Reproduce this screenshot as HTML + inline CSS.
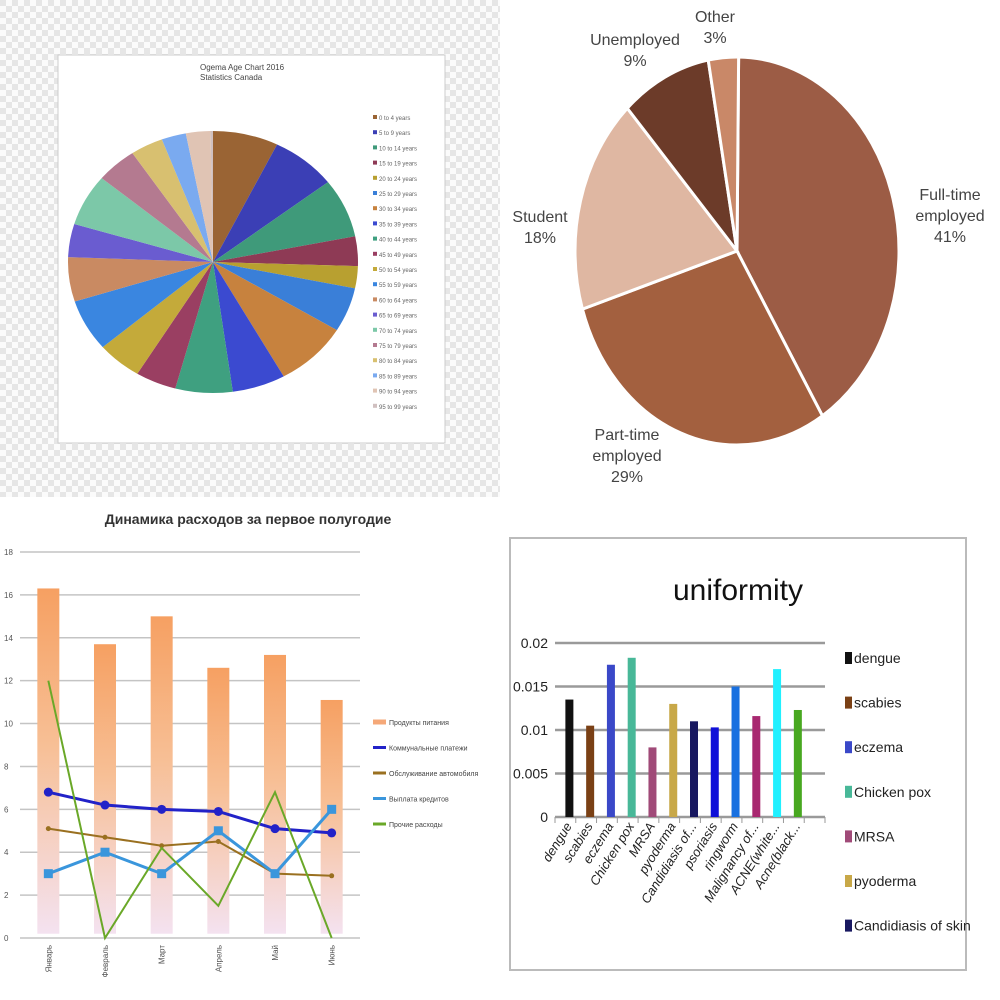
<!DOCTYPE html>
<html><head><meta charset="utf-8">
<style>
html,body{margin:0;padding:0;background:#fff;}
svg{display:block;font-family:"Liberation Sans",sans-serif;}
</style></head>
<body>
<svg id="s" width="1000" height="1000" viewBox="0 0 1000 1000" xmlns="http://www.w3.org/2000/svg">
<defs>
<pattern id="chk" width="12" height="12" patternUnits="userSpaceOnUse">
<rect width="12" height="12" fill="#fbfbfb"/><rect width="6" height="6" fill="#e6e6e6"/><rect x="6" y="6" width="6" height="6" fill="#e6e6e6"/>
</pattern>
<linearGradient id="barg" x1="0" y1="0" x2="0" y2="1">
<stop offset="0" stop-color="#f6a062"/><stop offset="0.45" stop-color="#f7bf95"/><stop offset="1" stop-color="#f4e2f0"/>
</linearGradient>
</defs>
<rect x="0" y="0" width="500" height="497" fill="url(#chk)"/>
<rect x="58" y="55" width="387" height="388" fill="#fff" stroke="#ccc"/>
<text x="200" y="70" font-size="8" fill="#444">Ogema Age Chart 2016</text>
<text x="200" y="80" font-size="8" fill="#444">Statistics Canada</text>
<g id="agePie"></g><g id="ageLegend"></g>
<g id="empPie"></g>
<g id="expChart"></g>
<rect x="510" y="538" width="456" height="432" fill="#fff" stroke="#bbb" stroke-width="2"/>
<text x="738" y="600" font-size="30" text-anchor="middle" fill="#111">uniformity</text>
<g id="uniChart"></g>
</svg>
<script>
const NS="http://www.w3.org/2000/svg";
function mk(p,t,a){const e=document.createElementNS(NS,t);for(const k in a)e.setAttribute(k,a[k]);p.appendChild(e);return e;}

// ---- Age pie ----
const ageLabels=["0 to 4 years","5 to 9 years","10 to 14 years","15 to 19 years","20 to 24 years","25 to 29 years","30 to 34 years","35 to 39 years","40 to 44 years","45 to 49 years","50 to 54 years","55 to 59 years","60 to 64 years","65 to 69 years","70 to 74 years","75 to 79 years","80 to 84 years","85 to 89 years","90 to 94 years","95 to 99 years"];
const ageValues=[8,8,8,4,3,6,9,6.5,7,5,5.5,7,6,4.5,7,5,4,3,3,0.3];
const ageColors=["#9a6434","#3b3fb5","#3f9a7a","#8e3a55","#b8a030","#3a7fd8","#c7823e","#3b4ad0","#3fa080","#9a3f62","#c4aa3a","#3a86e0","#c98a62","#6a5cd0","#7cc8a8","#b47a90","#d8c070","#7aaaf0","#e0c4b4","#d0c0c0"];
{
const g=document.getElementById('agePie');const cx=213,cy=262,rx=145,ry=131;
const tot=ageValues.reduce((a,b)=>a+b,0);let a0=-Math.PI/2;
ageValues.forEach((v,i)=>{const a1=a0+v/tot*2*Math.PI;
const x0=cx+rx*Math.cos(a0),y0=cy+ry*Math.sin(a0),x1=cx+rx*Math.cos(a1),y1=cy+ry*Math.sin(a1);
const p=mk(g,'path',{d:`M${cx},${cy}L${x0},${y0}A${rx},${ry} 0 ${a1-a0>Math.PI?1:0} 1 ${x1},${y1}Z`,fill:ageColors[i]});


a0=a1;});
const lg=document.getElementById('ageLegend');
ageLabels.forEach((l,i)=>{const y=118+i*15.2;
const r=mk(lg,'rect',{x:373,y:y-3,width:4,height:4,fill:ageColors[i]});


const t=mk(lg,'text',{x:379,y:y+2,'font-size':6,fill:'#666'});t.textContent=l;

});
}

// ---- Employment pie ----
const empLabels=[["Full-time","employed","41%"],["Part-time","employed","29%"],["Student","18%"],["Unemployed","9%"],["Other","3%"]];
const empValues=[41,29,18,9,3];
const empColors=["#9c5c45","#a3603f","#dfb7a2","#6c3b29","#c98868"];
{
const g=document.getElementById('empPie');const cx=737,cy=251,rx=162,ry=194;
const lpos=[[950,200],[627,440],[540,222],[635,45],[715,22]];
let a0=-Math.PI/2+0.01;const tot=empValues.reduce((a,b)=>a+b,0);
empValues.forEach((v,i)=>{const a1=a0+v/tot*2*Math.PI;
const x0=cx+rx*Math.cos(a0),y0=cy+ry*Math.sin(a0),x1=cx+rx*Math.cos(a1),y1=cy+ry*Math.sin(a1);
const p=mk(g,'path',{d:`M${cx},${cy}L${x0},${y0}A${rx},${ry} 0 ${a1-a0>Math.PI?1:0} 1 ${x1},${y1}Z`,fill:empColors[i],stroke:'#fff','stroke-width':3});


a0=a1;
const t=mk(g,'text',{x:lpos[i][0],y:lpos[i][1],'font-size':16,'text-anchor':'middle',fill:'#444'});


empLabels[i].forEach((s,j)=>{const ts=mk(t,'tspan',{x:lpos[i][0],dy:j?21:0});ts.textContent=s;});
});
}

// ---- Expenses chart ----
const months=["Январь","Февраль","Март","Апрель","Май","Июнь"];
const food=[16.3,13.7,15.0,12.6,13.2,11.1];
const utilities=[6.8,6.2,6.0,5.9,5.1,4.9];
const car=[5.1,4.7,4.3,4.5,3.0,2.9];
const loans=[3,4,3,5,3,6];
const other=[12,0,4.2,1.5,6.8,0];
const expTicks=[0,2,4,6,8,10,12,14,16,18];
const expSeries=["Продукты питания","Коммунальные платежи","Обслуживание автомобиля","Выплата кредитов","Прочие расходы"];
{
const g=document.getElementById('expChart');
const x0=20,x1=360,y0=938,yTop=552;
const Y=v=>y0-(v/18)*(y0-yTop);const step=(x1-x0)/6;const X=i=>x0+step*(i+0.5);
const tt=mk(g,'text',{x:248,y:524,'font-size':14,'font-weight':'bold','text-anchor':'middle',fill:'#333'});tt.textContent="Динамика расходов за первое полугодие";


expTicks.forEach(v=>{const l=mk(g,'line',{x1:x0,x2:x1,y1:Y(v),y2:Y(v),stroke:'#c4c4c4','stroke-width':1.5});


const t=mk(g,'text',{x:4,y:Y(v)+3,'font-size':8,fill:'#555'});t.textContent=v;

});
food.forEach((v,i)=>{const r=mk(g,'rect',{x:X(i)-11,y:Y(v),width:22,height:Y(0.2)-Y(v),fill:'url(#barg)'});

});
months.forEach((m,i)=>{const t=mk(g,'text',{x:X(i)+3,y:945,'font-size':8,'text-anchor':'end',fill:'#555',transform:`rotate(-90 ${X(i)+3} 945)`});t.textContent=m;

});
const lines=[[utilities,'#2222c8','circle',3],[car,'#9a7020','tri',2],[loans,'#3a96dc','sq',3],[other,'#6aa828',null,2]];
lines.forEach(([arr,c,mkT,w])=>{const pts=arr.map((v,i)=>X(i)+','+Y(v)).join(' ');
const pl=mk(g,'polyline',{points:pts,fill:'none',stroke:c,'stroke-width':w});


if(mkT)arr.forEach((v,i)=>{let m;
if(mkT==='circle')m=mk(g,'circle',{cx:X(i),cy:Y(v),r:4.5,fill:c});
else if(mkT==='sq')m=mk(g,'rect',{x:X(i)-4.5,y:Y(v)-4.5,width:9,height:9,fill:c});
else m=mk(g,'circle',{cx:X(i),cy:Y(v),r:2.5,fill:c});

});});
const lc=['#f5a878','#2222c8','#9a7020','#3a96dc','#6aa828'];
expSeries.forEach((s,i)=>{const y=722+i*25.5;
const l=mk(g,'line',{x1:373,x2:386,y1:y,y2:y,stroke:lc[i],'stroke-width':i==0?5:3});


const t=mk(g,'text',{x:389,y:y+3,'font-size':7,fill:'#444'});t.textContent=s;

});
}

// ---- Uniformity chart ----
const diseases=["dengue","scabies","eczema","Chicken pox","MRSA","pyoderma","Candidiasis of...","psoriasis","ringworm","Malignancy of...","ACNE(white...","Acne(black..."];
const uniValues=[0.0135,0.0105,0.0175,0.0183,0.008,0.013,0.011,0.0103,0.015,0.0116,0.017,0.0123];
const uniTicks=[0,0.005,0.01,0.015,0.02];
const uniColors=["#111","#7a4015","#3a48c8","#48b898","#a04a78","#c8a848","#181860","#1010d8","#1870e0","#a82870","#20f0ff","#48a820"];
const legendNames=["dengue","scabies","eczema","Chicken pox","MRSA","pyoderma","Candidiasis of skin"];
{
const g=document.getElementById('uniChart');
const x0=555,x1=825,y0=817,yTop=643;const step=(x1-x0)/13;
const Y=v=>y0-(v/0.02)*(y0-yTop);const X=i=>x0+step*(i+0.5)+4;
uniTicks.forEach(v=>{const l=mk(g,'line',{x1:x0,x2:x1,y1:Y(v),y2:Y(v),stroke:'#9a9a9a','stroke-width':2.5});


const t=mk(g,'text',{x:548,y:Y(v)+5,'font-size':14,'text-anchor':'end',fill:'#222'});t.textContent=v;

});
for(let i=0;i<=13;i++){const l=mk(g,'line',{x1:x0+step*i,x2:x0+step*i,y1:y0,y2:y0+6,stroke:'#999'});

}
uniValues.forEach((v,i)=>{const r=mk(g,'rect',{x:X(i)-4,y:Y(v),width:8,height:y0-Y(v),fill:uniColors[i]});


const tx=X(i)+3,ty=826;
const t=mk(g,'text',{x:tx,y:ty,'font-size':13,'font-style':'italic','text-anchor':'end',fill:'#222',transform:`rotate(-58 ${tx} ${ty})`});t.textContent=diseases[i];

});
legendNames.forEach((s,i)=>{const y=658+i*44.6;
const r=mk(g,'rect',{x:845,y:y-6,width:7,height:12,fill:uniColors[i]});


const t=mk(g,'text',{x:854,y:y+5,'font-size':14,fill:'#222'});t.textContent=s;

});
}
</script>
</body></html>
